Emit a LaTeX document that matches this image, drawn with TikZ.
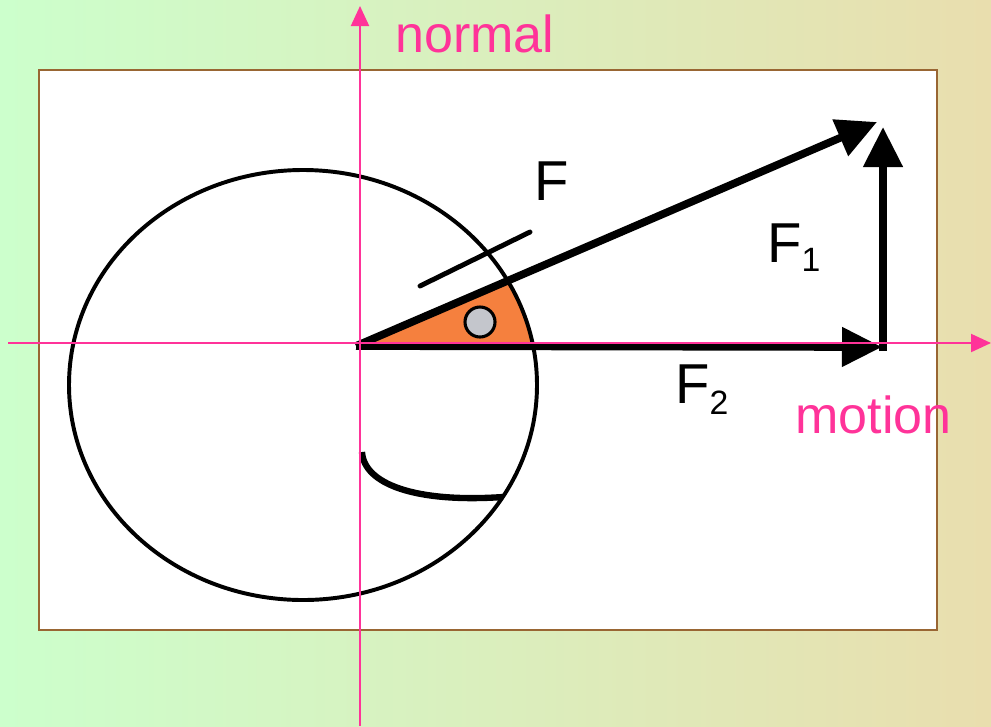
\documentclass[tikz,border=0pt]{standalone}
\usepackage{fontspec}
\setmainfont{Liberation Sans}
\usetikzlibrary{arrows.meta, positioning}
\definecolor{axispink}{HTML}{FF3399}
\definecolor{bgleft}{HTML}{CCFFCC}
\definecolor{bgright}{HTML}{E9DEAE}
\definecolor{framebrown}{HTML}{996633}
\definecolor{wedge}{HTML}{F5803E}
\definecolor{pin}{HTML}{C4C6CC}

\newcommand{\subdigit}[2]{\raisebox{#1}{\fontsize{24}{24}\selectfont #2}}

\begin{document}
\begin{tikzpicture}[x=0.025cm, y=-0.025cm,
  axis/.style={draw=axispink, line width=1.5pt, -{Triangle[length=0.5cm,width=0.45cm]}},
  vec/.style={line width=5.5pt, -{Triangle[length=1cm,width=0.95cm]}},
  rim/.style={line width=2.8pt},
  force/.style={anchor=base west, inner sep=0pt, font=\fontsize{40}{40}\selectfont},
  axlabel/.style={anchor=base west, inner sep=0pt, text=axispink, font=\fontsize{37}{37}\selectfont}
]

  \useasboundingbox (0,0) rectangle (991,726);
  \shade[left color=bgleft, right color=bgright] (0,0) rectangle (991,726);
  \draw[framebrown, line width=1.5pt, fill=white] (39,70) rectangle (937,630);

  \coordinate (C)      at (303,385);
  \coordinate (O)      at (356,346);
  \coordinate (Ftip)   at (877,122);
  \coordinate (F2tip)  at (882,347);
  \coordinate (F1foot) at (883,351);
  \coordinate (F1tip)  at (883,127);
  \coordinate (tickA)  at (420,286);
  \coordinate (tickB)  at (530,232);
  \coordinate (hookA)  at (362,452);
  \coordinate (hookB)  at (503,497);

  % wedge inside the wheel
  \begin{scope}
    \clip (C) ellipse [x radius=234, y radius=215];
    \fill[wedge] (358,344) -- (600,344) -- (600,240) -- cycle;
  \end{scope}

  \draw[rim] (C) ellipse [x radius=234, y radius=215];
  \draw[line width=2.2pt, fill=pin] (480,322) circle [radius=15];

  \draw[vec] (O) -- (Ftip);
  \draw[vec] (O) -- (F2tip);
  \draw[vec] (F1foot) -- (F1tip);
  \draw[line width=3.5pt, line cap=round] (tickA) -- (tickB);
  \draw[line width=4.5pt] (hookA) .. controls (364,484) and (415,503) .. (hookB);

  \node[force] (lF)  at (534,200) {F};
  \node[force] (lF1) at (767,262) {F\subdigit{-7pt}{1}};
  \node[force] (lF2) at (675,403) {F\subdigit{-8.5pt}{2}};

  % axes on top
  \coordinate (nbot) at (360,726);
  \coordinate (ntop) at (360,6);
  \coordinate (mleft) at (8,343);
  \coordinate (mright) at (991,343);
  \draw[axis] (nbot) -- (ntop);
  \draw[axis] (mleft) -- (mright);
  \node[axlabel] (normal) at (395,52) {normal};
  \node[axlabel] (motion) at (795,433) {motion};

\end{tikzpicture}
\end{document}
